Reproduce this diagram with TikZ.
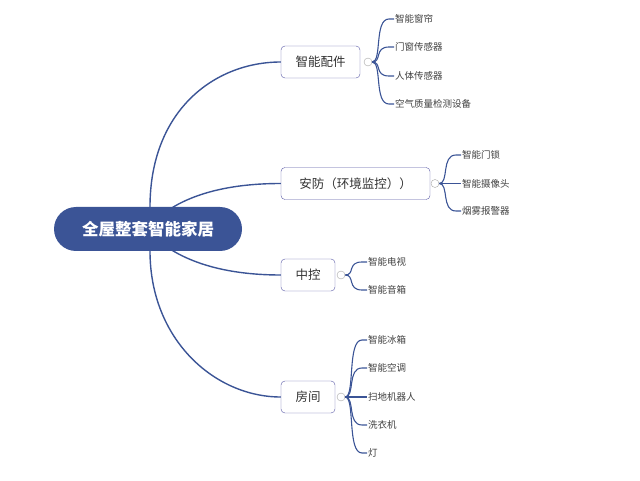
\documentclass[tikz,border=0pt]{standalone}
\usepackage{fontspec}
\setmainfont{Noto Sans CJK SC}
\begin{document}
\begin{tikzpicture}[x=1pt,y=-1pt,
  line/.style={draw=dblue,line width=1.4pt},
  branch/.style={draw=gray!70!blue,rounded corners=4pt,fill=white,minimum height=32pt,inner xsep=8pt,font=\fontsize{12.5}{14}\selectfont,text=black!80},
  leaf/.style={anchor=west,inner sep=1pt,font=\fontsize{9.5}{11}\selectfont,text=black!75},
  knob/.style={circle,draw=gray!70,fill=white,inner sep=0pt,minimum size=8pt}]
\definecolor{dblue}{HTML}{3B5496}
\useasboundingbox (0,0) rectangle (640,481);
\node[fill=dblue,rounded corners=22pt,minimum width=188pt,minimum height=44pt,text=white,font=\fontsize{16.5}{18}\bfseries\selectfont] (root) at (148,229) {全屋整套智能家居};
\coordinate (rt) at (150,207);
\coordinate (rt2) at (170,209);
\coordinate (rb) at (150,251);
\coordinate (rb2) at (170,249);
\node[branch,minimum width=79pt] (b1) at (320.5,62) {智能配件};
\node[branch,minimum width=149pt] (b2) at (355.5,183.5) {安防（环境监控））};
\node[branch,minimum width=54pt] (b3) at (308,275) {中控};
\node[branch,minimum width=54pt] (b4) at (308,397) {房间};
\draw[line] (rt) .. controls (150,110) and (215,62) .. (b1.west);
\draw[line] (rt2) .. controls (200,190) and (240,183.5) .. (b2.west);
\draw[line] (rb2) .. controls (200,268) and (240,275) .. (b3.west);
\draw[line] (rb) .. controls (150,340) and (215,397) .. (b4.west);
\node[knob] (k1) at (368,62) {};
\node[knob] (k2) at (435,183.5) {};
\node[knob] (k3) at (341,275) {};
\node[knob] (k4) at (341,397) {};
\node[leaf] (l11) at (394,19) {智能窗帘};
\node[leaf] (l12) at (394,47) {门窗传感器};
\node[leaf] (l13) at (394,76) {人体传感器};
\node[leaf] (l14) at (394,104) {空气质量检测设备};
\node[leaf] (l21) at (461,155) {智能门锁};
\node[leaf] (l22) at (461,183.5) {智能摄像头};
\node[leaf] (l23) at (461,211) {烟雾报警器};
\node[leaf] (l31) at (367,262) {智能电视};
\node[leaf] (l32) at (367,290) {智能音箱};
\node[leaf] (l41) at (367,340) {智能冰箱};
\node[leaf] (l42) at (367,368) {智能空调};
\node[leaf] (l43) at (367,397) {扫地机器人};
\node[leaf] (l44) at (367,425) {洗衣机};
\node[leaf] (l45) at (367,453) {灯};
\foreach \k/\l in {k1/l11,k1/l12,k1/l13,k1/l14,k2/l21,k2/l22,k2/l23,k3/l31,k3/l32,k4/l41,k4/l42,k4/l43,k4/l44,k4/l45}{
  \draw[draw=dblue,line width=1.1pt] (\k.east) .. controls ([xshift=10pt]\k.east) and ([xshift=-20pt]\l.west) .. ([xshift=-5pt]\l.west) -- (\l.west);
}
\end{tikzpicture}
\end{document}
